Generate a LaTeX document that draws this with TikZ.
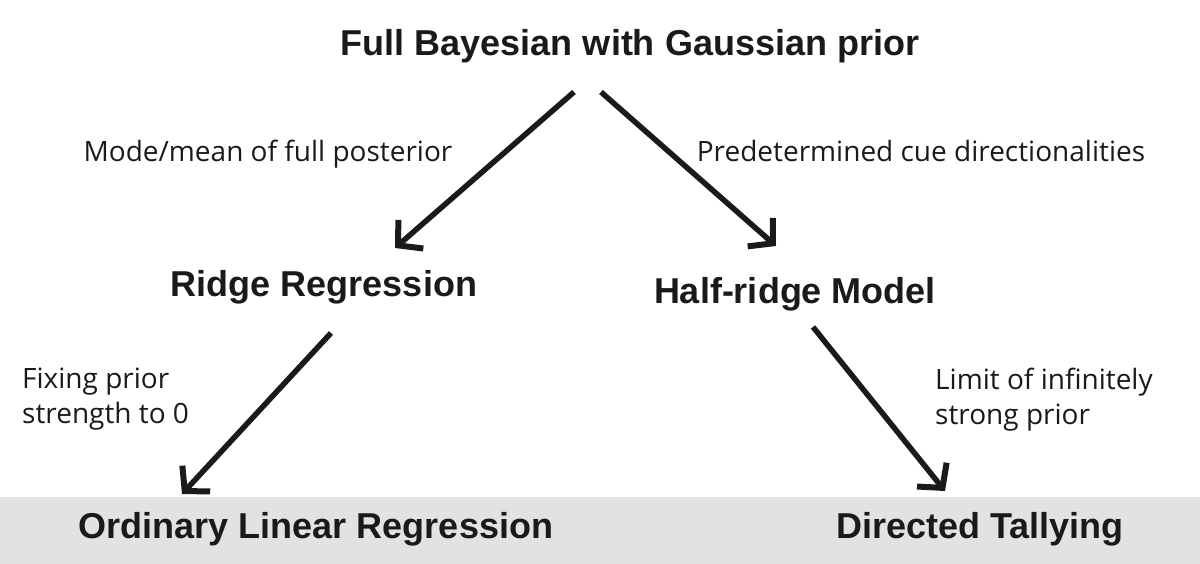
\documentclass[tikz,border=0pt]{standalone}
\usepackage{fontspec}
\setmainfont{Liberation Sans}
\newfontfamily\labelfont{Open Sans}
\usetikzlibrary{arrows.meta}
\definecolor{band}{RGB}{226,226,226}
\definecolor{ink}{RGB}{26,26,26}
\tikzset{
  model/.style={inner sep=0pt, anchor=base, text=ink, font=\fontsize{36}{40}\selectfont\bfseries},
  edgelabel/.style={inner sep=0pt, anchor=base, text=ink, font=\labelfont\fontsize{28}{35}\selectfont},
  sidelabel/.style={inner sep=0pt, anchor=north west, text=ink, align=left, font=\labelfont\fontsize{28}{35}\selectfont},
  link/.style={draw=ink, line width=5.5pt, -{Straight Barb[length=17pt,width=38pt,line width=6pt]}}
}
\begin{document}
\begin{tikzpicture}[x=1pt,y=-1pt]
\useasboundingbox (0,0) rectangle (1200,564);
\fill[band] (0,497) rectangle (1200,564);
\node[model] (full) at (630,56) {Full Bayesian with Gaussian prior};
\node[model] (ridge) at (324,296) {Ridge Regression};
\node[model] (half) at (795,304) {Half-ridge Model};
\node[model] (ols) at (316,538) {Ordinary Linear Regression};
\node[model] (tally) at (980,538) {Directed Tallying};
\node[edgelabel] (l1) at (268,162) {Mode/mean of full posterior};
\node[edgelabel] (l2) at (921,162) {Predetermined cue directionalities};
\node[sidelabel] (l3) at (22,368) {Fixing prior\\strength to 0};
\node[sidelabel] (l4) at (935,368) {Limit of infinitely\\strong prior};
\coordinate (a1s) at (574,92);  \coordinate (a1e) at (395,248);
\coordinate (a2s) at (601,92);  \coordinate (a2e) at (776,246);
\coordinate (a3s) at (331,333); \coordinate (a3e) at (182,494);
\coordinate (a4s) at (813,327); \coordinate (a4e) at (945,491);
\draw[link] (a1s) -- (a1e);
\draw[link] (a2s) -- (a2e);
\draw[link] (a3s) -- (a3e);
\draw[link] (a4s) -- (a4e);
\end{tikzpicture}
\end{document}
